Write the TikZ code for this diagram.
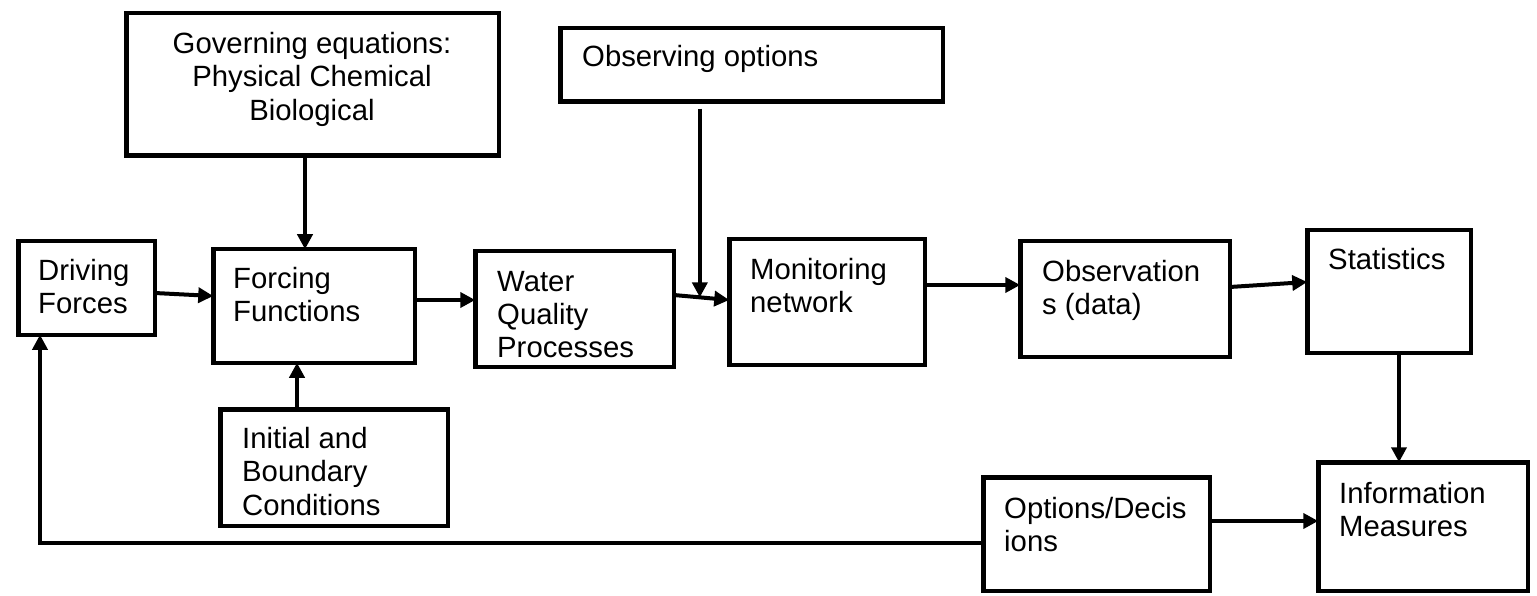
\documentclass[tikz,border=0pt]{standalone}
\usepackage{fontspec}
\setmainfont{Liberation Sans}
\usetikzlibrary{arrows.meta,calc}
\newcommand\mybox[5]{\node[box, minimum width={#4-#2-4.5}, minimum height={#5-#3-4.5}] (#1) at ({#2+2.25},{#3+2.25}) {};}
\begin{document}
\begin{tikzpicture}[x=1pt,y=-1pt,
 box/.style={draw, line width=4.5pt, anchor=north west, inner sep=0pt, outer sep=0pt},
 txt/.style={anchor=north west, align=left, inner sep=0pt, font=\fontsize{29.3}{33.3}\selectfont},
 arr/.style={line width=4pt, -{Triangle[length=15pt,width=15pt]}}]
\useasboundingbox[fill=white] (0,0) rectangle (1537,596);
% boxes
\mybox{gov}{124}{11}{501}{158}
\mybox{oo}{558}{26}{945}{104}
\mybox{drv}{16}{239}{157}{337}
\mybox{frc}{211}{247}{417}{365}
\mybox{wq}{473}{249}{676}{369}
\mybox{mon}{727}{237}{927}{367}
\mybox{obsd}{1018}{239}{1232}{359}
\mybox{stat}{1305}{228}{1473}{355}
\mybox{ibc}{218}{407}{450}{528}
\mybox{opt}{981}{475}{1212}{593}
\mybox{info}{1316}{460}{1530}{593}
% texts
\node[txt, anchor=north, align=center] (govt) at (312,32) {Governing equations:\\Physical Chemical\\Biological};
\node[txt] (oot) at (582,45) {Observing options};
\node[txt] (drvt) at (38,259) {Driving\\Forces};
\node[txt] (frct) at (233,267) {Forcing\\Functions};
\node[txt] (wqt) at (497,271) {Water\\Quality\\Processes};
\node[txt] (mont) at (750,258) {Monitoring\\network};
\node[txt] (obsdt) at (1042,260) {Observation\\s (data)};
\node[txt] (statt) at (1328,248) {Statistics};
\node[txt] (ibct) at (242,427) {Initial and\\Boundary\\Conditions};
\node[txt] (optt) at (1004,497) {Options/Decis\\ions};
\node[txt] (infot) at (1339,482) {Information\\Measures};
% connectors
\draw[arr] ([xshift=-7.5pt]gov.south) -- ([xshift=-7.5pt]gov.south |- frc.north);
\draw[arr] ([yshift=-5pt]drv.east) -- ([yshift=10pt]frc.west);
\draw[arr] ([yshift=6pt]frc.east) -- ([yshift=9pt]wq.west);
\draw[arr] ([yshift=14pt]wq.east) -- ([yshift=2pt]mon.west);
\coordinate (j) at ($([yshift=14pt]wq.east)!0.47!([yshift=2pt]mon.west)$);
\draw[arr] (j |- oo.south) ++(0,7) -- (j);
\draw[arr] ([yshift=17pt]mon.east) -- ([yshift=14pt]obsd.west);
\draw[arr] ([yshift=12pt]obsd.east) -- ([yshift=9.5pt]stat.west);
\draw[arr] ([xshift=10pt]stat.south) -- ([xshift=10pt]stat.south |- info.north);
\draw[arr] ([yshift=13pt]opt.east) -- ([yshift=5.5pt]info.west);
\draw[arr] ([xshift=-37pt]ibc.north) -- ([xshift=-37pt]ibc.north |- frc.south);
\draw[arr, line width=3.5pt] ([yshift=-9pt]opt.west) -| ([xshift=-46.5pt]drv.south);
\end{tikzpicture}
\end{document}
